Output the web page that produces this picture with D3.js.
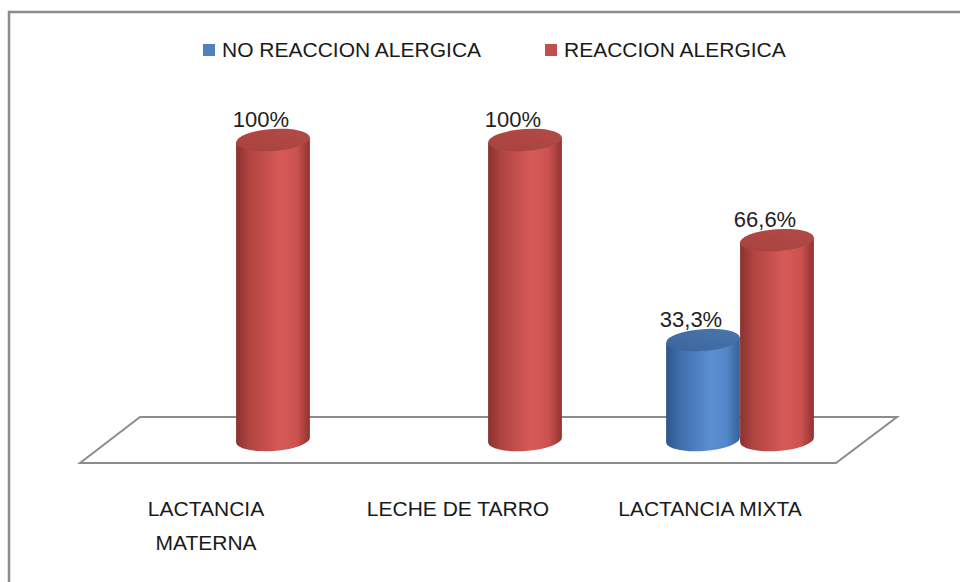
<!DOCTYPE html>
<html><head><meta charset="utf-8">
<script src="https://cdn.jsdelivr.net/npm/d3@7"></script>
<style>html,body{margin:0;padding:0;background:#fff}svg{display:block}</style>
</head><body>
<svg id="chart" width="960" height="582"></svg>
<script>
const categories = [["LACTANCIA","MATERNA"],["LECHE DE TARRO"],["LACTANCIA MIXTA"]];
const seriesNames = ["NO REACCION ALERGICA","REACCION ALERGICA"];
const noReaccion = [0, 0, 33.3];
const reaccion = [100, 100, 66.6];
const seriesValues = [noReaccion, reaccion];

const svg = d3.select("#chart");
const font = "'Liberation Sans', Arial, sans-serif";
const catKeys = categories.map(c => c.join(" "));

// frame
svg.append("path").attr("d","M9,590 L9,12 L970,12").attr("fill","none")
  .attr("stroke","#8c8c8c").attr("stroke-width",2.5);

// floor geometry (depth shift)
const depthDX = 30, depthDY = 23;
const x0 = d3.scaleBand().domain(catKeys).range([110, 866]);
const x1 = d3.scaleBand().domain(seriesNames).range([0, x0.bandwidth()]).paddingOuter(0.703).paddingInner(0);
const y = d3.scaleLinear().domain([0, 100]).range([440, 140]);

const fl = x0.range();
const yb = y(0);
svg.append("path")
  .attr("d", `M${fl[0]-depthDX},${yb+depthDY} L${fl[0]+depthDX},${yb-depthDY} L${fl[1]+depthDX+1},${yb-depthDY} L${fl[1]-depthDX},${yb+depthDY} Z`)
  .attr("fill","#fff").attr("stroke","#8c8c8c").attr("stroke-width",2);

const defs = svg.append("defs");
const pal = {
  "NO REACCION ALERGICA": {body:["#2d568a","#3e6ea9","#5a8fd2","#5387c8","#34619a"], top:["#3a659c","#4a76ae"]},
  "REACCION ALERGICA": {body:["#8a3230","#b04441","#d65b58","#cc524f","#8f3331"], top:["#a8423f","#b34b48"]}
};
seriesNames.forEach((s,i) => {
  const g = defs.append("linearGradient").attr("id","body"+i).attr("x1","0").attr("x2","1").attr("y1","0").attr("y2","0");
  const offs = [0, 0.18, 0.6, 0.82, 1];
  pal[s].body.forEach((c,k) => g.append("stop").attr("offset",offs[k]).attr("stop-color",c));
  const t = defs.append("linearGradient").attr("id","top"+i).attr("x1","0").attr("x2","1").attr("y1","1").attr("y2","0");
  t.append("stop").attr("offset",0).attr("stop-color",pal[s].top[0]);
  t.append("stop").attr("offset",1).attr("stop-color",pal[s].top[1]);
});

const loc = d3.formatLocale({decimal:",", thousands:".", grouping:[3], currency:["",""]});
const fmt = v => (Number.isInteger(v) ? String(v) : loc.format(".1f")(v)) + "%";

const rx = x1.bandwidth()/2, ry = 11, rot = -4;
const th = rot*Math.PI/180, ex = rx*Math.cos(th), ey = rx*Math.sin(th);

const bars = [];
catKeys.forEach((c, ci) => seriesNames.forEach((s, si) => {
  const v = seriesValues[si][ci];
  if (v > 0) bars.push({c, s, si, v});
}));

const gBars = svg.append("g");
bars.forEach(d => {
  const cx = x0(d.c) + x1(d.s) + rx;
  const yt = y(d.v), ybot = y(0);
  const g = gBars.append("g");
  g.append("path")
    .attr("d", `M${cx-ex},${yt-ey} L${cx-ex},${ybot-ey} A${rx},${ry} ${rot} 0 0 ${cx+ex},${ybot+ey} L${cx+ex},${yt+ey} Z`)
    .attr("fill", `url(#body${d.si})`);
  g.append("ellipse").attr("cx",cx).attr("cy",yt).attr("rx",rx).attr("ry",ry)
    .attr("transform",`rotate(${rot},${cx},${yt})`)
    .attr("fill", `url(#top${d.si})`);
  svg.append("text").attr("x", cx-12).attr("y", yt-13)
    .attr("text-anchor","middle").attr("font-family",font).attr("font-size",22)
    .attr("fill","#222").text(fmt(d.v));
});

// category labels
categories.forEach((lines, ci) => {
  const cx = x0(catKeys[ci]) + x0.bandwidth()/2 - depthDX;
  lines.forEach((ln, li) => {
    svg.append("text").attr("x", cx).attr("y", 516 + li*34)
      .attr("text-anchor","middle").attr("font-family",font).attr("font-size",21)
      .attr("fill","#1a1a1a").text(ln);
  });
});

// legend
const legendX = [203, 545];
seriesNames.forEach((s, i) => {
  svg.append("rect").attr("x", legendX[i]).attr("y", 44).attr("width", 12).attr("height", 12)
    .attr("fill", i===0 ? "#4f81bd" : "#c0504d");
  svg.append("text").attr("x", legendX[i]+19).attr("y", 57)
    .attr("font-family",font).attr("font-size",21).attr("fill","#1a1a1a")
    .text(s);
});
</script>
</body></html>
